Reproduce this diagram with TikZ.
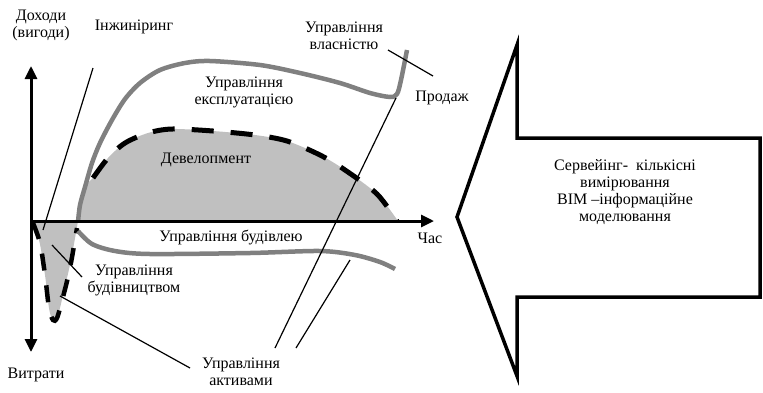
\documentclass[tikz,border=0pt]{standalone}
\usepackage{fontspec}
\setmainfont{Liberation Serif}
\usetikzlibrary{arrows.meta}
\definecolor{curvegray}{RGB}{128,128,128}
\definecolor{fillgray}{RGB}{192,192,192}
\begin{document}
\begin{tikzpicture}[x=1pt,y=-1pt,
  lbl/.style={font=\fontsize{16}{17}\selectfont, align=center, inner sep=0pt},
  axisline/.style={line width=3pt, -{Triangle[length=13pt,width=12pt]}},
  graycurve/.style={line width=4.5pt, draw=curvegray, line join=round},
  dashcurve/.style={line width=5pt, dash pattern=on 22pt off 17pt},
  dashsmall/.style={line width=4.5pt, dash pattern=on 17pt off 15pt},
  leader/.style={line width=1.2pt}]
\useasboundingbox (0,0) rectangle (763,392);

% fills
\fill[fillgray] plot[smooth] coordinates {(77,221) (80,205) (85,187) (93,178)}
  -- plot[smooth] coordinates {(93,178) (108,158) (125,143) (148,133) (172,129) (213,131) (255,135) (287,141) (320,155) (345,170) (377,194) (398,221)} -- cycle;
\fill[fillgray] plot[smooth] coordinates {(31,221) (39,240) (45,275) (49,308) (53,321) (58,315) (63,295) (71,260) (78,221)} -- cycle;

% development dashed
\draw[dashcurve] plot[smooth] coordinates {(93,178) (108,158) (125,143) (148,133) (172,129) (213,131) (255,135) (287,141) (320,155) (345,170) (377,194) (397,221)};
% construction dashed
\draw[dashsmall] plot[smooth] coordinates {(33,223) (40,243) (45,275) (49,308) (53,320) (57,318) (63,297) (70,268) (77,228)};

% exploitation curve
\draw[graycurve] plot[smooth] coordinates {(78,222) (80,205) (85,187) (92,163) (100,143) (112,120) (125,99) (140,83) (160,70) (185,63) (210,61) (260,65) (300,73) (340,83) (370,93) (390,97) (397,94) (401,80) (407,50)};
% building curve
\draw[graycurve] plot[smooth] coordinates {(78,231) (92,244) (115,251) (150,254) (250,253) (320,251) (355,255) (380,262) (395,269)};

% axes
\coordinate (O) at (31,221);
\coordinate (ytop) at (31,66);
\coordinate (ybot) at (31,352);
\coordinate (xend) at (434,221);
\draw[axisline] (O) -- (ytop);
\draw[axisline] (O) -- (ybot);
\draw[axisline] (O) -- (xend);

% labels
\node[lbl] (dohody) at (41,25) {Доходи\\(вигоди)};
\node[lbl] (inzh) at (134,27) {Інжиніринг};
\node[lbl] (vlasn) at (344,36) {Управління\\власністю};
\node[lbl] (prodazh) at (442,98) {Продаж};
\node[lbl] (ekspl) at (244,92) {Управління\\експлуатацією};
\node[lbl] (devel) at (206,160) {Девелопмент};
\node[lbl] (budivl) at (231,237) {Управління будівлею};
\node[lbl] (chas) at (430,238) {Час};
\node[lbl] (budivn) at (134,280) {Управління\\будівництвом};
\node[lbl] (vytraty) at (36,375) {Витрати};
\node[lbl] (aktyvy) at (241,372) {Управління\\активами};

% leader lines
\coordinate (e1) at (93,68);
\coordinate (e2) at (43,230);
\draw[leader] (e1) -- (e2);
\coordinate (v1) at (388,50);
\coordinate (v2) at (433,76);
\draw[leader] (v1) -- (v2);
\coordinate (a1) at (396,98);
\coordinate (a2) at (275,348);
\draw[leader] (a1) -- (a2);
\coordinate (a3) at (350,260);
\coordinate (a4) at (296,348);
\draw[leader] (a3) -- (a4);
\coordinate (b1) at (52,245);
\coordinate (b2) at (82,277);
\draw[leader] (b1) -- (b2);
\coordinate (c1) at (60,296);
\coordinate (c2) at (190,368);
\draw[leader] (c1) -- (c2);

% big arrow
\coordinate (tip) at (457,217);
\coordinate (ht) at (517,45);
\coordinate (st) at (517,138);
\coordinate (sr1) at (760,138);
\coordinate (sr2) at (760,297);
\coordinate (sb) at (517,297);
\coordinate (hb) at (517,376);
\draw[line width=3.5pt, line join=miter] (tip) -- (ht) -- (st) -- (sr1) -- (sr2) -- (sb) -- (hb) -- cycle;
\node[lbl] (serv) at (625,192) {Сервейінг-~ кількісні\\вимірювання\\BIM –інформаційне\\моделювання};
\end{tikzpicture}
\end{document}
